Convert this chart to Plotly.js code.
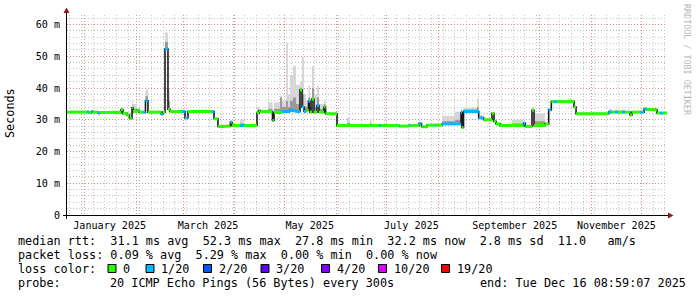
<!DOCTYPE html>
<html><head><meta charset="utf-8">
<script src="https://cdn.plot.ly/plotly-3.0.1.min.js"></script>
<style>html,body{margin:0;padding:0;background:#fff;} #chart{width:697px;height:297px;}</style>
</head><body><div id="chart"></div>
<script>
// ---- data ----
const startDate = '2024-12-21 09:00';
const endDate = '2025-12-16 09:00';
const dates = [
"2024-12-21 09:00","2025-01-02 09:00","2025-01-03 14:00","2025-01-05 02:00","2025-01-05 23:00","2025-01-08 23:00","2025-01-10 04:00","2025-01-22 19:00","2025-01-23 23:00","2025-01-26 09:00",
"2025-01-27 21:00","2025-01-29 09:00","2025-01-29 23:00","2025-02-01 09:00","2025-02-02 14:00","2025-02-04 23:00","2025-02-06 11:00","2025-02-07 23:00","2025-02-15 19:00","2025-02-16 23:00",
"2025-02-18 04:00","2025-02-19 23:00","2025-02-21 04:00","2025-02-28 09:00","2025-03-02 04:00","2025-03-03 23:00","2025-03-18 09:00","2025-03-19 14:00","2025-03-21 23:00","2025-03-26 04:00",
"2025-03-29 09:00","2025-03-30 09:00","2025-04-04 04:00","2025-04-06 14:00","2025-04-14 09:00","2025-04-15 14:00","2025-04-16 11:00","2025-04-20 23:00","2025-04-23 16:00","2025-04-24 14:00",
"2025-04-28 04:00","2025-04-29 09:00","2025-05-01 19:00","2025-05-02 23:00","2025-05-04 04:00","2025-05-05 23:00","2025-05-07 19:00","2025-05-10 04:00","2025-05-11 09:00","2025-05-12 14:00",
"2025-05-13 19:00","2025-05-15 07:00","2025-05-16 04:00","2025-05-17 09:00","2025-05-18 14:00","2025-05-20 09:00","2025-05-21 14:00","2025-05-24 14:00","2025-05-25 11:00","2025-06-01 09:00",
"2025-06-07 09:00","2025-06-09 04:00","2025-06-21 04:00","2025-06-22 02:00","2025-06-26 14:00","2025-06-27 11:00","2025-07-08 14:00","2025-07-09 04:00","2025-07-14 14:00","2025-07-15 04:00",
"2025-07-20 14:00","2025-07-22 02:00","2025-07-25 09:00","2025-07-30 04:00","2025-07-30 19:00","2025-08-03 09:00","2025-08-11 04:00","2025-08-14 19:00","2025-08-15 09:00","2025-08-16 07:00",
"2025-08-24 09:00","2025-08-25 09:00","2025-08-28 09:00","2025-09-02 09:00","2025-09-03 14:00","2025-09-04 19:00","2025-09-07 04:00","2025-09-14 09:00","2025-09-21 09:00","2025-09-22 09:00",
"2025-09-26 09:00","2025-09-27 14:00","2025-10-04 04:00","2025-10-06 09:00","2025-10-07 23:00","2025-10-09 14:00","2025-10-11 09:00","2025-10-17 23:00","2025-10-19 19:00","2025-10-21 14:00",
"2025-10-22 19:00","2025-11-11 09:00","2025-11-13 09:00","2025-11-15 04:00","2025-11-16 23:00","2025-11-19 09:00","2025-11-21 04:00","2025-11-24 04:00","2025-11-25 09:00","2025-11-30 04:00",
"2025-12-02 14:00","2025-12-04 09:00","2025-12-10 09:00","2025-12-12 04:00","2025-12-13 23:00","2025-12-16 09:00"
];
// median RTT in ms
const median = [
32.4,32.4,32.2,32.6,32.4,32.1,32.3,33.2,32.0,31.5,
30.4,33.8,32.6,33.0,32.4,32.4,36.0,32.4,31.8,32.4,
52.3,33.3,32.6,32.6,30.6,32.6,32.6,30.3,27.9,28.0,
29.2,28.2,28.2,28.2,32.1,32.9,32.6,32.6,29.8,32.3,
32.3,32.6,32.6,32.6,33.0,32.8,32.6,39.4,34.0,32.6,
33.0,35.8,32.4,36.5,32.4,34.5,32.4,34.0,31.9,28.2,
28.2,28.2,28.2,28.2,28.2,28.2,28.0,28.0,28.2,28.2,
28.8,27.8,28.3,28.3,28.3,28.7,28.7,32.3,27.6,32.6,
32.6,30.6,30.0,32.0,29.5,28.7,28.2,28.2,28.9,27.9,
33.0,28.2,28.7,33.1,35.7,35.7,35.7,35.7,35.7,34.0,
31.9,32.4,32.4,32.4,32.4,32.4,32.4,31.5,32.4,32.4,
33.4,33.2,32.1,32.1,32.1,32.1
];
// lost pings out of 20
const lossCount = [
0,1,0,1,0,1,0,0,0,0,
0,0,0,0,0,1,1,0,1,0,
1,0,0,1,1,0,1,0,0,0,
1,0,1,0,0,0,0,0,0,0,
0,1,1,1,1,1,1,0,1,1,
0,1,0,0,0,1,0,0,0,0,
0,0,0,0,1,0,1,0,1,0,
1,0,0,1,0,1,1,1,0,1,
1,1,0,0,0,0,0,0,1,0,
0,0,0,1,0,1,0,0,0,0,
0,1,0,1,0,1,0,0,0,1,
1,0,0,1,0,0
];
// inner (darker) smoke upper edge, ms
const smokeMid = [
32.6,32.7,32.4,32.8,32.6,32.3,32.5,33.4,32.2,31.7,
30.6,34.5,33.5,33.2,32.6,32.6,37.5,32.6,32.0,32.6,
54.5,36.0,32.8,32.8,30.8,32.8,32.8,30.5,28.1,28.2,
29.4,28.4,28.8,28.4,32.8,33.1,32.8,33.5,30.5,33.5,
37.0,34.0,36.0,34.0,36.0,37.0,35.0,40.0,38.0,34.0,
34.0,37.0,34.0,40.0,34.0,37.0,33.5,35.0,32.1,28.4,
29.0,28.4,29.0,28.4,28.4,28.4,28.2,28.2,28.4,28.4,
29.0,28.0,28.5,28.5,28.5,29.5,30.0,33.0,27.8,33.2,
34.0,30.8,30.2,32.2,29.7,28.9,28.4,28.8,29.1,28.1,
33.5,29.5,28.9,33.3,35.9,35.9,35.9,36.0,35.9,34.2,
32.1,32.8,32.6,32.6,32.6,32.6,32.6,31.7,32.6,32.6,
33.6,33.4,32.3,32.3,32.3,32.3
];
// outer (light) smoke upper edge, ms
const smokeHi = [
32.8,33.0,32.6,33.0,32.8,32.5,32.7,33.6,32.4,31.9,
30.8,36.0,35.0,33.5,32.8,32.8,39.5,32.8,32.2,32.8,
57.5,39.5,33.0,33.0,31.0,33.0,33.0,30.7,28.3,28.4,
29.8,28.6,30.0,28.6,34.0,33.3,33.0,35.5,32.6,35.5,
37.6,36.0,54.3,38.0,44.0,47.0,41.0,42.0,49.8,38.0,
36.0,40.7,37.0,47.0,38.0,40.7,35.0,36.0,32.4,28.6,
30.7,28.5,30.4,28.5,28.6,28.6,28.4,28.4,28.6,28.6,
29.2,28.2,28.7,28.7,28.7,31.3,32.5,33.5,28.0,33.8,
36.7,31.5,30.4,32.4,29.9,29.1,28.5,30.0,29.3,28.3,
33.9,32.0,29.1,33.5,36.2,36.1,36.1,36.7,36.2,34.4,
32.4,33.4,33.0,33.2,33.0,33.2,32.8,31.9,32.8,32.8,
33.8,33.6,32.5,32.5,32.5,32.5
];
const lossLevels = [0,1,2,3,4,10,19];
const lossLabels = ['0','1/20','2/20','3/20','4/20','10/20','19/20'];
const lossColors = ['#26ff00','#00b8ff','#0059ff','#5e00ff','#7e00ff','#dd00ff','#ff0000'];
const yTickVals = [0,10,20,30,40,50,60];
const yTickText = ['0','10 m','20 m','30 m','40 m','50 m','60 m'];
const monthStarts = ['2025-01-01','2025-02-01','2025-03-01','2025-04-01','2025-05-01','2025-06-01','2025-07-01','2025-08-01','2025-09-01','2025-10-01','2025-11-01','2025-12-01'];
const xLabelVals = ['2025-01-16','2025-03-16','2025-05-16','2025-07-16','2025-09-16','2025-11-16'];
const xLabelText = ['January 2025','March 2025','May 2025','July 2025','September 2025','November 2025'];
const legendLine1 = 'median rtt:  31.1 ms avg  52.3 ms max  27.8 ms min  32.2 ms now  2.8 ms sd  11.0   am/s';
const legendLine2 = 'packet loss: 0.09 % avg  5.29 % max  0.00 % min  0.00 % now';
const legendLine3 = 'loss color:';
const probeLabel = 'probe:';
const probeText = '20 ICMP Echo Pings (56 Bytes) every 300s';
const endText = 'end: Tue Dec 16 08:59:07 2025';
const yTitle = 'Seconds';
const watermark = 'RRDTOOL / TOBI OETIKER';

// ---- geometry helpers (pixel -> paper) ----
const L = 67, T = 15, W = 600, H = 200;
const px = v => (v - L) / W;
const py = v => (T + H - v) / H;
const nb = s => s.replace(/ /g, '\u00a0');
const MONO = 'DejaVu Sans Mono';

const traces = [];
// smoke: outer light band
traces.push({x: dates, y: median, mode: 'lines', line: {width: 0, shape: 'hv'}, hoverinfo: 'skip'});
traces.push({x: dates, y: smokeHi, mode: 'lines', line: {width: 0, shape: 'hv'}, fill: 'tonexty', fillcolor: '#d6d6d6', hoverinfo: 'skip'});
// smoke: inner darker band
traces.push({x: dates, y: median, mode: 'lines', line: {width: 0, shape: 'hv'}, hoverinfo: 'skip'});
traces.push({x: dates, y: smokeMid, mode: 'lines', line: {width: 0, shape: 'hv'}, fill: 'tonexty', fillcolor: '#9a9a9a', hoverinfo: 'skip'});
// dark median line
traces.push({x: dates, y: median, mode: 'lines', line: {width: 1.6, shape: 'hv', color: '#1a1a1a'}, hoverinfo: 'skip'});
// median coloured by loss class
const classOf = n => { let k = 0; lossLevels.forEach((lv, j) => { if (n >= lv) k = j; }); return k; };
lossLevels.forEach((lv, k) => {
  const xs = [], ys = [];
  for (let i = 0; i < dates.length - 1; i++) {
    if (classOf(lossCount[i]) === k) { xs.push(dates[i], dates[i + 1], null); ys.push(median[i], median[i], null); }
  }
  if (xs.length) traces.push({x: xs, y: ys, mode: 'lines', line: {width: 3, color: lossColors[k]}, hoverinfo: 'skip'});
});
// carrier for the label axis
traces.push({x: xLabelVals, y: xLabelVals.map(() => null), xaxis: 'x2', mode: 'lines', hoverinfo: 'skip'});

const shapes = [];
// axis lines
shapes.push({type: 'line', xref: 'paper', yref: 'paper', x0: px(63), x1: px(669), y0: py(215.5), y1: py(215.5), line: {color: '#000', width: 1}});
shapes.push({type: 'line', xref: 'paper', yref: 'paper', x0: px(66.5), x1: px(66.5), y0: py(219), y1: py(11), line: {color: '#000', width: 1}});
// arrow heads
shapes.push({type: 'path', xref: 'paper', yref: 'paper', path: `M ${px(63.5)} ${py(13)} L ${px(69.5)} ${py(13)} L ${px(66.5)} ${py(7.5)} Z`, fillcolor: '#8b1a1a', line: {width: 0}});
shapes.push({type: 'path', xref: 'paper', yref: 'paper', path: `M ${px(668)} ${py(212.5)} L ${px(668)} ${py(218.5)} L ${px(673.5)} ${py(215.5)} Z`, fillcolor: '#8b1a1a', line: {width: 0}});

const annotations = [];
const txt = (s, x, y, extra) => Object.assign({text: nb(s), xref: 'paper', yref: 'paper', x: px(x), y: py(y), xanchor: 'left', yanchor: 'middle', showarrow: false, font: {family: MONO, size: 11.8, color: '#000'}}, extra || {});
annotations.push(txt(legendLine1, 16, 241));
annotations.push(txt(legendLine2, 16, 255));
annotations.push(txt(legendLine3, 16, 269));
annotations.push(txt(probeLabel, 16, 283));
annotations.push(txt(probeText, 108, 283));
annotations.push(txt(endText, 477.5, 283));
// loss colour legend boxes
const boxX = [108, 146, 203.5, 261, 321.5, 378.5, 441.5];
lossLabels.forEach((lab, k) => {
  const bx = boxX[k];
  shapes.push({type: 'rect', xref: 'paper', yref: 'paper', x0: px(bx), x1: px(bx + 8), y0: py(264.5), y1: py(272.5), fillcolor: lossColors[k], line: {color: '#000', width: 1}});
  annotations.push(txt(lab, bx + 13, 269));
});
// y title
annotations.push({text: yTitle, xref: 'paper', yref: 'paper', x: px(10), y: py(113), xanchor: 'center', yanchor: 'middle', textangle: -90, showarrow: false, font: {family: MONO, size: 11.8, color: '#000'}});
// watermark
annotations.push({text: nb(watermark), xref: 'paper', yref: 'paper', x: px(687), y: py(60), xanchor: 'center', yanchor: 'middle', textangle: 90, showarrow: false, font: {family: MONO, size: 8.4, color: '#b8b8b8'}});

const DOTS = '1px,2px';
const layout = {
  width: 697, height: 297,
  margin: {l: L, r: 697 - L - W, t: T, b: 297 - T - H, pad: 0},
  paper_bgcolor: '#ffffff', plot_bgcolor: '#ffffff',
  showlegend: false,
  font: {family: MONO, size: 10.1, color: '#000'},
  xaxis: {
    type: 'date', range: [startDate, endDate], tickmode: 'array', tickvals: monthStarts,
    showticklabels: false, ticks: '', showline: false, zeroline: false,
    showgrid: true, gridcolor: '#e08a8a', griddash: DOTS, gridwidth: 1,
    minor: {tick0: '2024-12-23', dtick: 7 * 86400000, showgrid: true, gridcolor: '#c4c4c4', griddash: DOTS, gridwidth: 1, ticks: ''}
  },
  xaxis2: {
    type: 'date', overlaying: 'x', anchor: 'y', side: 'bottom', range: [startDate, endDate],
    tickmode: 'array', tickvals: xLabelVals, ticktext: xLabelText, showgrid: false, ticks: '', showline: false, zeroline: false,
    tickfont: {family: MONO, size: 10.1, color: '#000'}, ticklabelstandoff: 3
  },
  yaxis: {
    range: [0, 63], tickmode: 'array', tickvals: yTickVals, ticktext: yTickText, showline: false, zeroline: false,
    showgrid: true, gridcolor: '#e08a8a', griddash: DOTS, gridwidth: 1, ticks: '',
    tickfont: {family: MONO, size: 10.1, color: '#000'}, ticklabelstandoff: 6,
    minor: {dtick: 2, showgrid: true, gridcolor: '#c4c4c4', griddash: DOTS, gridwidth: 1, ticks: ''}
  },
  shapes: shapes,
  annotations: annotations
};
Plotly.newPlot('chart', traces, layout, {staticPlot: true, displayModeBar: false});
</script>
</body></html>
